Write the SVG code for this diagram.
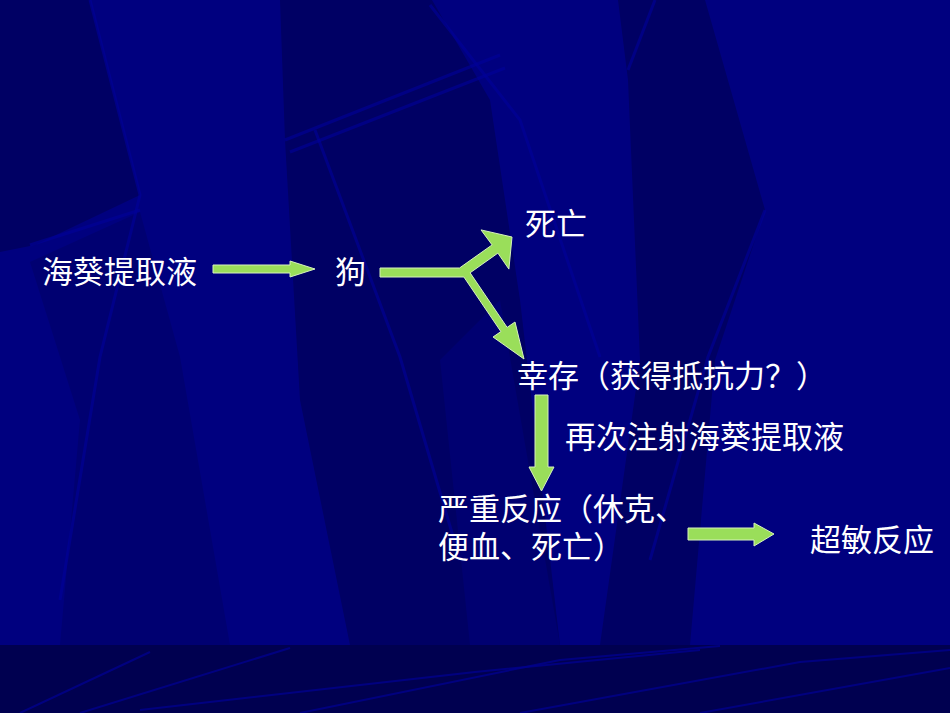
<svg xmlns="http://www.w3.org/2000/svg" width="950" height="713" viewBox="0 0 950 713">
<style>
.t{font-family:"Noto Sans CJK SC","Noto Sans CJK TC",sans-serif;font-size:31px;fill:#ffffff}
.ar{fill:#9ade5a;stroke:#d6f2bc;stroke-width:1;stroke-linejoin:miter}
.dk{fill:#000064}
.md{fill:#000071}
.ln{stroke:#00009a;stroke-width:3;fill:none;opacity:0.6}
.bl{stroke:#00008c;stroke-width:2;fill:none;opacity:0.8}
</style>
<g id="background">
<rect x="0" y="0" width="950" height="713" fill="#00007f"/>
<polygon class="dk" points="0,0 90,0 140,195 35,245 0,252"/>
<polygon class="md" points="30,262 140,212 180,357 230,645 60,645 80,420"/>
<polygon class="dk" points="280,0 432,0 490,100 520,300 560,645 350,645 300,400 285,140"/>
<polygon class="dk" points="618,0 705,0 765,210 715,360 690,645 600,645 640,360 628,80"/>
<polygon class="md" points="440,360 500,300 560,645 470,645"/>
<polyline class="ln" points="90,0 140,195 100,357 60,600"/>
<polyline class="ln" points="285,140 500,55"/>
<polyline class="ln" points="290,152 505,68"/>
<polyline class="ln" points="430,5 520,120 600,357"/>
<polyline class="ln" points="315,130 400,357 460,560"/>
<polyline class="ln" points="655,0 628,70"/>
<polyline class="ln" points="765,210 708,357 650,560"/>
<polyline class="ln" points="140,210 30,245"/>
<rect x="0" y="645" width="950" height="68" fill="#000050"/>
<polyline class="bl" points="20,713 150,652"/>
<polyline class="bl" points="80,713 290,648"/>
<polyline class="bl" points="140,710 475,672 700,650"/>
<polyline class="bl" points="300,713 560,660 720,646"/>
<polyline class="bl" points="520,713 800,662 950,650"/>
<polyline class="bl" points="700,713 950,668"/>
</g>
<g id="connectors">
<polygon class="ar" points="213,265 290,265 290,261 315,269 290,277 290,273 213,273"/>
<polygon class="ar" points="380,268 459.5,268 492.1,244.9 481,229.9 512,237 508.9,269.1 497.9,253.1 470.1,272.8 507.1,327.4 515,322 524,359 493,337 500.9,331.6 463.9,277 380,277"/>
<polygon class="ar" points="535,395 548,395 548,467 554,467 541.5,491 529,467 535,467"/>
<polygon class="ar" points="688,528 754,528 754,523 774,534 754,546 754,540 688,540"/>
</g>
<g id="node-extract"><text class="t" x="42" y="283">海葵提取液</text></g>
<g id="node-dog"><text class="t" x="335" y="283">狗</text></g>
<g id="node-death"><text class="t" x="525" y="235">死亡</text></g>
<g id="node-survive"><text class="t" x="517" y="387">幸存（获得抵抗力？）</text></g>
<g id="label-reinject"><text class="t" x="565" y="448">再次注射海葵提取液</text></g>
<g id="node-severe"><text class="t"><tspan x="438" y="520">严重反应（休克、</tspan><tspan x="438" y="558">便血、死亡）</tspan></text></g>
<g id="node-hyper"><text class="t" x="810" y="551">超敏反应</text></g>
</svg>
